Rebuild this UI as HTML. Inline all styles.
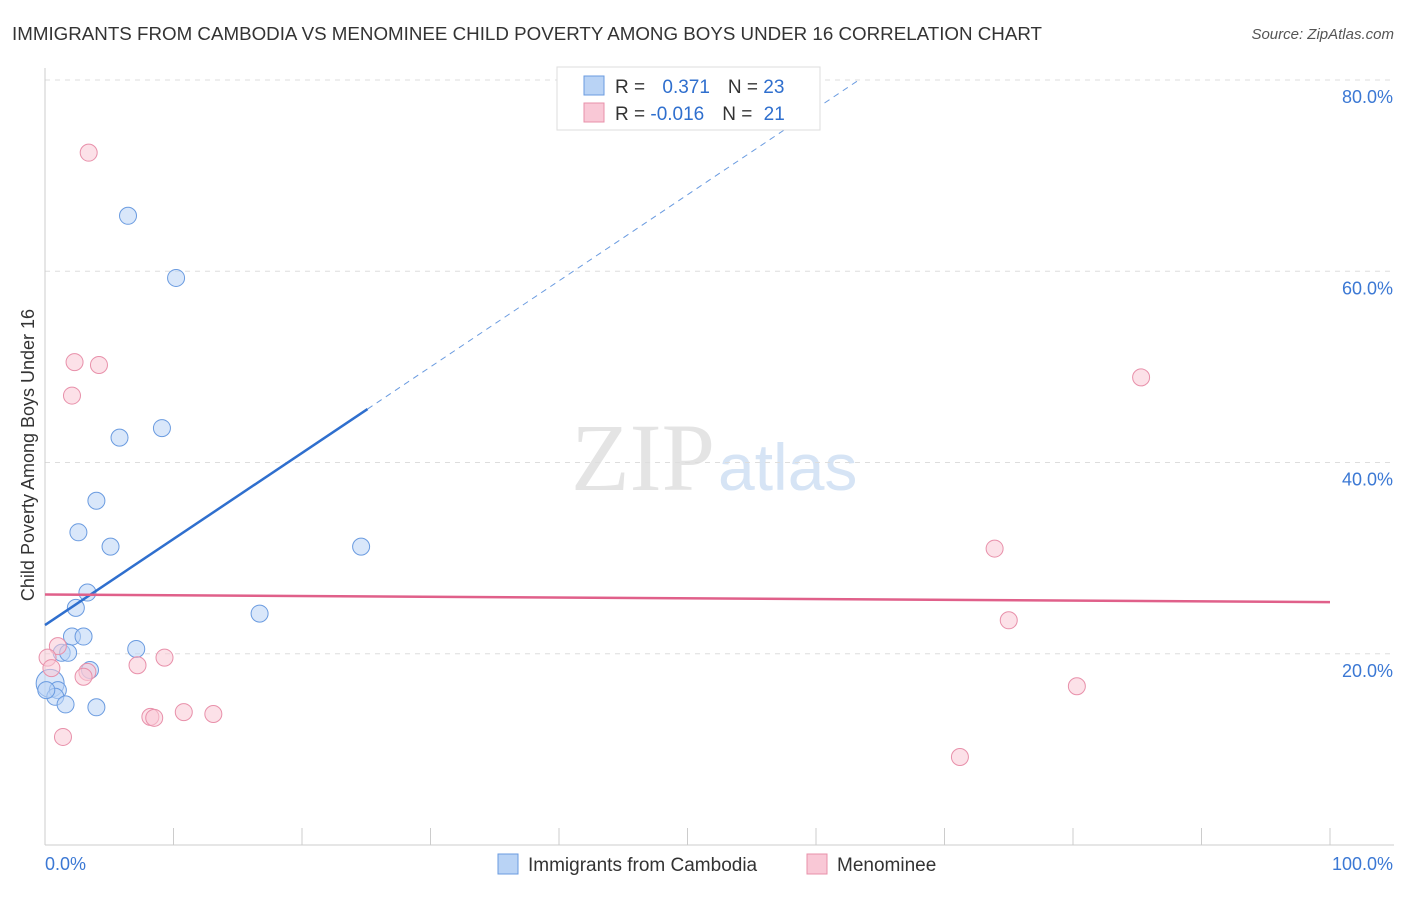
<!DOCTYPE html>
<html><head><meta charset="utf-8"><style>
body{margin:0;background:#fff;font-family:"Liberation Sans",sans-serif}
</style></head><body>
<svg id="c" width="1406" height="892" xmlns="http://www.w3.org/2000/svg">
<text x="12" y="40" font-size="18" fill="#333" textLength="1030" lengthAdjust="spacingAndGlyphs">IMMIGRANTS FROM CAMBODIA VS MENOMINEE CHILD POVERTY AMONG BOYS UNDER 16 CORRELATION CHART</text>
<text x="1394" y="39" font-size="15" fill="#555" font-style="italic" text-anchor="end">Source: ZipAtlas.com</text>
<text x="715" y="490" font-size="96" fill="#e4e4e4" text-anchor="end" font-family="Liberation Serif">ZIP</text>
<text x="718" y="490" font-size="66" fill="#d6e4f5">atlas</text>
<text x="34" y="455" font-size="18" fill="#333" text-anchor="middle" transform="rotate(-90 34 455)">Child Poverty Among Boys Under 16</text>
<g id="grid"></g><g id="marks"></g>
<g>
<rect x="557" y="67" width="263" height="63" fill="#fff" stroke="#ddd"/>
<rect x="584" y="76" width="20" height="19" fill="#b9d3f5" stroke="#6a9be0"/>
<text x="615" y="93" font-size="19" fill="#333">R = <tspan fill="#2f6fce" dx="12">0.371</tspan><tspan dx="18" fill="#333">N = </tspan><tspan fill="#2f6fce">23</tspan></text>
<rect x="584" y="103" width="20" height="19" fill="#f9c8d6" stroke="#e890aa"/>
<text x="615" y="120" font-size="19" fill="#333">R = <tspan fill="#2f6fce">-0.016</tspan><tspan dx="18" fill="#333">N = </tspan><tspan fill="#2f6fce" dx="6">21</tspan></text>
</g>
<g>
<rect x="498" y="854" width="20" height="20" fill="#b9d3f5" stroke="#6a9be0"/>
<text x="528" y="871" font-size="19" fill="#333">Immigrants from Cambodia</text>
<rect x="807" y="854" width="20" height="20" fill="#f9c8d6" stroke="#e890aa"/>
<text x="837" y="871" font-size="19" fill="#333">Menominee</text>
</g>
</svg>
<script>
const yTicks=[20,40,60,80];
const yTickLabels=["20.0%","40.0%","60.0%","80.0%"];
const blueX=[6.46,10.2,5.8,9.1,4.0,2.6,5.1,24.6,3.3,2.4,16.7,2.1,3.0,7.1,1.3,1.8,3.5,0.4,1.0,0.8,1.6,4.0,0.1];
const blueY=[65.8,59.3,42.6,43.6,36.0,32.7,31.2,31.2,26.4,24.8,24.2,21.8,21.8,20.5,20.1,20.1,18.3,16.9,16.2,15.5,14.7,14.4,16.2];
const pinkX=[3.4,2.3,4.2,2.1,85.3,73.9,75.0,80.3,71.2,1.0,0.2,0.5,3.3,3.0,7.2,9.3,8.2,8.5,10.8,13.1,1.4];
const pinkY=[72.4,50.5,50.2,47.0,48.9,31.0,23.5,16.6,9.2,20.8,19.6,18.5,18.1,17.6,18.8,19.6,13.4,13.3,13.9,13.7,11.3];
const blueLine=[23.0,0.9,25.1];// intercept, slope, solid end
const pinkLine=[26.2,25.4];
const X=v=>45+v*12.85, Y=v=>845-v*9.5625;
const NS="http://www.w3.org/2000/svg";
function mk(t,a,p){const e=document.createElementNS(NS,t);for(const k in a)e.setAttribute(k,a[k]);p.appendChild(e);return e;}
const g=document.getElementById('grid'), m=document.getElementById('marks');
yTicks.forEach((t,i)=>{
 const l=mk('line',{x1:45,x2:1394,y1:Y(t),y2:Y(t),stroke:'#ddd','stroke-dasharray':'5,5'},g);
 
 
 const tx=mk('text',{x:1393,y:Y(t)+23,'font-size':18,fill:'#3b78d4','text-anchor':'end'},g);tx.textContent=yTickLabels[i];
 
 
});
mk('line',{x1:45,x2:45,y1:68,y2:845,stroke:'#ccc'},g);
mk('line',{x1:45,x2:1394,y1:845,y2:845,stroke:'#ccc'},g);
for(let i=0;i<=10;i++){const l=mk('line',{x1:X(i*10),x2:X(i*10),y1:828,y2:845,stroke:'#ccc'},g);
 
 }
let t0=mk('text',{x:45,y:870,'font-size':18,fill:'#3b78d4'},g);t0.textContent="0.0%";


let t1=mk('text',{x:1393,y:870,'font-size':18,fill:'#3b78d4','text-anchor':'end'},g);t1.textContent="100.0%";


function dots(xs,ys,fill,stroke,name){xs.forEach((x,i)=>{const c=mk('circle',{cx:X(x),cy:Y(ys[i]),r:(name=='blue-point'&&i==17)?14:8.5,fill:fill,'fill-opacity':0.55,stroke:stroke,'stroke-width':1},m);
 
 });}
dots(blueX,blueY,'#b9d3f5','#6a9be0','blue-point');
dots(pinkX,pinkY,'#f9c8d6','#e890aa','pink-point');
const bl=mk('line',{x1:X(0),y1:Y(blueLine[0]),x2:X(blueLine[2]),y2:Y(blueLine[0]+blueLine[1]*blueLine[2]),stroke:'#2f6fce','stroke-width':2.5},m);


const xe=(80-blueLine[0])/blueLine[1];
const bd=mk('line',{x1:X(blueLine[2]),y1:Y(blueLine[0]+blueLine[1]*blueLine[2]),x2:X(xe),y2:Y(80),stroke:'#6a9be0','stroke-width':1,'stroke-dasharray':'6,5'},m);


const pl=mk('line',{x1:X(0),y1:Y(pinkLine[0]),x2:X(100),y2:Y(pinkLine[1]),stroke:'#e0608a','stroke-width':2.5},m);


</script>
</body></html>
